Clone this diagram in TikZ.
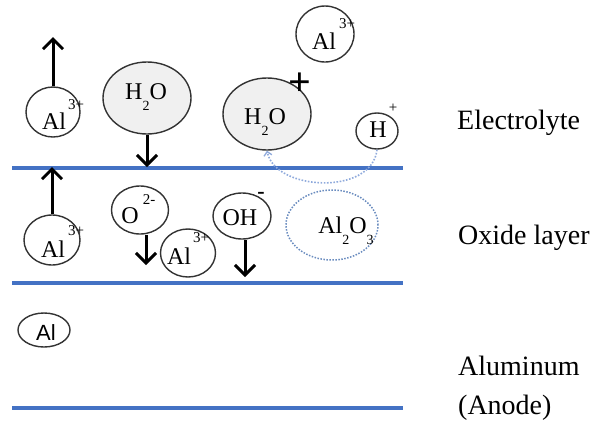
\documentclass[tikz,border=0pt]{standalone}
\usepackage{fontspec}
\setmainfont{Liberation Serif}
\newfontfamily\sansAl{Liberation Sans}
\usetikzlibrary{shapes.geometric,arrows.meta}
\definecolor{layerblue}{HTML}{4472C4}
\definecolor{lightblue}{HTML}{8FAADC}
\definecolor{dotblue}{HTML}{6A8CBF}
\definecolor{ringgray}{HTML}{333333}
\definecolor{watergray}{HTML}{F0F0F0}
\newcommand\mysub[1]{\raisebox{-0.45em}{\fontsize{14}{14}\selectfont #1}}
\tikzset{
  layer/.style={draw=layerblue,line width=4pt},
  ion/.style={ellipse,draw=ringgray,line width=1.4pt,inner sep=0pt},
  water/.style={ion,fill=watergray},
  oxide/.style={ellipse,draw=dotblue,line width=1.5pt,dash pattern=on 1.5pt off 1.5pt,inner sep=0pt},
  txt/.style={inner sep=0pt,font=\fontsize{24}{24}\selectfont},
  supr/.style={inner sep=0pt,font=\fontsize{15}{15}\selectfont},
  lbl/.style={inner sep=0pt,anchor=west,font=\fontsize{28}{28}\selectfont},
  move/.style={line width=3pt,-{Straight Barb[length=10pt,width=20pt]}},
  hop/.style={draw=lightblue,line width=1.6pt,dash pattern=on 1.6pt off 1.6pt,-{Straight Barb[length=4pt,width=8pt,line width=1.3pt]}}
}
\begin{document}
\begin{tikzpicture}[x=1pt,y=-1pt]
\useasboundingbox (0,0) rectangle (600,426);
% layer boundaries
\coordinate (l1a) at (12,168); \coordinate (l1b) at (403,168);
\coordinate (l2a) at (12,283); \coordinate (l2b) at (403,283);
\coordinate (l3a) at (12,408); \coordinate (l3b) at (403,408);
\draw[layer] (l1a) -- (l1b);
\draw[layer] (l2a) -- (l2b);
\draw[layer] (l3a) -- (l3b);

% Electrolyte region
\node[ion,minimum width=54pt,minimum height=50pt] (alA) at (53,112) {};
\node[txt] (alAt) at (54,121) {Al};
\node[supr] (alAs) at (76,105) {3+};
\coordinate (alAend) at (53,37);
\draw[move] (alA.north) -- (alAend);

\node[water,minimum width=88pt,minimum height=72pt] (h2oA) at (147,98) {};
\node[txt] (h2oAt) at (146,97) {H\mysub{2}O};
\coordinate (h2oAend) at (147,167);
\draw[move] (h2oA.south) -- (h2oAend);

\node[water,minimum width=88pt,minimum height=72pt] (h2oB) at (267,114) {};
\node[txt] (h2oBt) at (265,122) {H\mysub{2}O};
\node[inner sep=0pt,font=\fontsize{40}{40}\selectfont\bfseries] (h2oBs) at (300,84) {+};

\node[ion,minimum width=58pt,minimum height=56pt] (alT) at (325,34) {};
\node[txt] (alTt) at (324,41) {Al};
\node[supr] (alTs) at (347,24) {3+};

\node[ion,minimum width=42pt,minimum height=36pt] (hp) at (377,131) {};
\node[txt] (hpt) at (378,130) {H};
\node[supr] (hps) at (393,108) {+};

\draw[hop] (hp.south) .. controls (372,196) and (275,191) .. (h2oB.south);

% Oxide layer
\node[ion,minimum width=56pt,minimum height=50pt] (alB) at (52,240) {};
\node[txt] (alBt) at (53,249) {Al};
\node[supr] (alBs) at (76,231) {3+};
\coordinate (alBend) at (52,167);
\draw[move] (alB.north) -- (alBend);

\node[ion,minimum width=57pt,minimum height=48pt] (oxy) at (140,210) {};
\node[txt] (oxyt) at (130,216) {O};
\node[supr] (oxys) at (149,200) {2-};
\coordinate (oxyend) at (146,265);
\draw[move] ([xshift=6pt]oxy.south) -- (oxyend);

\node[ion,minimum width=55pt,minimum height=48pt] (alM) at (188,253) {};
\node[txt] (alMt) at (179,256) {Al};
\node[supr] (alMs) at (201,238) {3+};

\node[ion,minimum width=58pt,minimum height=46pt] (oh) at (242,216) {};
\node[txt] (oht) at (240,218) {OH};
\node[inner sep=0pt,font=\fontsize{22}{22}\selectfont\bfseries] (ohs) at (261,195) {-};
\coordinate (ohend) at (245,277);
\draw[move] ([xshift=3pt]oh.south) -- (ohend);

\node[oxide,minimum width=92pt,minimum height=70pt] (alox) at (332,225) {};
\node[txt] (aloxt) at (346,231) {Al\mysub{2}O\mysub{3}};

% Aluminum
\node[ion,minimum width=52pt,minimum height=34pt] (al0) at (44,330) {};
\node[txt,font=\sansAl\fontsize{22}{22}\selectfont] (al0t) at (46,333) {Al};

% labels
\node[lbl] (lbE) at (457,123) {Electrolyte};
\node[lbl] (lbO) at (458,238) {Oxide layer};
\node[lbl] (lbA) at (458,366) {Aluminum};
\node[lbl] (lbN) at (458,408) {(Anode)};
\end{tikzpicture}
\end{document}
